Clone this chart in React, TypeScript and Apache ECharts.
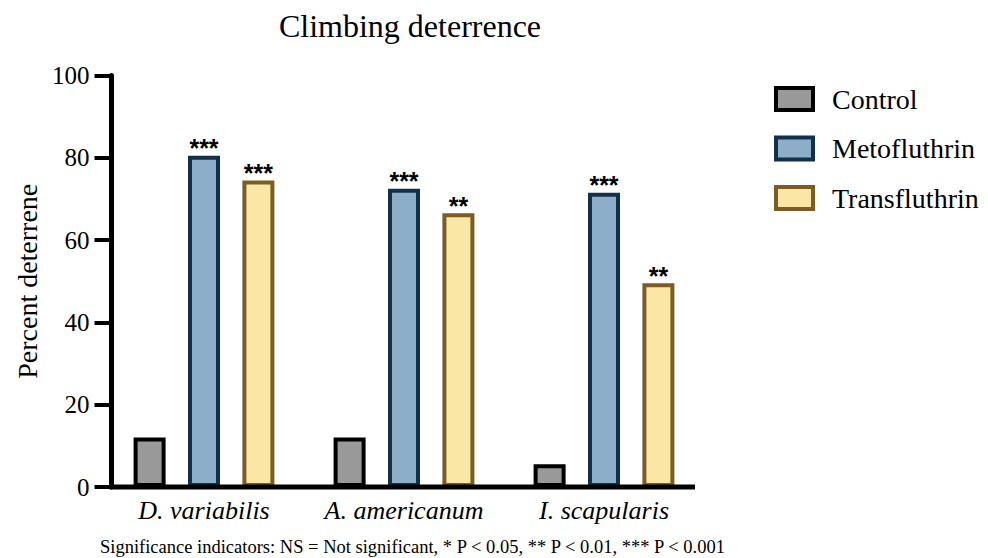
import React, { useEffect, useRef } from "react";
import * as echarts from "echarts";

const species = ["D. variabilis", "A. americanum", "I. scapularis"];
const seriesNames = ["Control", "Metofluthrin", "Transfluthrin"];
const controlValues = [12, 12, 5.5];
const metofluthrinValues = [80.5, 72.5, 71.5];
const transfluthrinValues = [74.5, 66.5, 49.5];
const controlSig = ["", "", ""];
const metofluthrinSig = ["***", "***", "***"];
const transfluthrinSig = ["***", "**", "**"];
const yTicks = [0, 20, 40, 60, 80, 100];

const SERIF = '"Liberation Serif", "Times New Roman", serif';
const SANS = '"Liberation Sans", Arial, sans-serif';

const GRID_LEFT = 104;
const GRID_WIDTH = 600;
const GRID_TOP = 75.5;
const GRID_HEIGHT = 411.5;
const Y_AXIS_SHIFT = 7.5;
const X_AXIS_END = 695;

export default function App() {
  const ref = useRef<HTMLDivElement | null>(null);

  useEffect(() => {
    if (!ref.current) return;
    const chart = echarts.init(ref.current, undefined, { renderer: "svg" });

    const makeSeries = (
      name: string,
      values: number[],
      sig: string[],
      fill: string,
      border: string
    ) => ({
      name,
      type: "bar",
      data: values,
      barWidth: 32,
      barGap: "70%",
      itemStyle: { color: fill, borderColor: border, borderWidth: 4 },
      label: {
        show: true,
        position: "top",
        distance: -5,
        formatter: (p: any) => sig[p.dataIndex],
        color: "#000",
        fontFamily: SANS,
        fontSize: 25,
        fontWeight: "bold",
      },
    });

    chart.setOption({
      animation: false,
      backgroundColor: "#ffffff",
      title: {
        text: "Climbing deterrence",
        left: 405,
        top: 5,
        textAlign: "center",
        textStyle: { fontFamily: SERIF, fontSize: 32, fontWeight: "normal", color: "#000" },
      },
      legend: {
        orient: "vertical",
        left: 774,
        top: 85,
        padding: 0,
        itemWidth: 37,
        itemHeight: 22,
        itemGap: 21.5,
        icon: "rect",
        data: seriesNames,
        itemStyle: { borderWidth: 4 },
        textStyle: { fontFamily: SERIF, fontSize: 28, color: "#000", padding: [0, 0, 0, 14] },
      },
      grid: {
        left: GRID_LEFT,
        top: GRID_TOP,
        width: GRID_WIDTH,
        height: GRID_HEIGHT,
        containLabel: false,
        outerBoundsMode: "none",
      },
      xAxis: {
        type: "category",
        data: species,
        axisLine: { show: false },
        axisTick: { show: false },
        axisLabel: {
          interval: 0,
          hideOverlap: false,
          margin: 10,
          fontFamily: SERIF,
          fontStyle: "italic",
          fontSize: 26,
          color: "#000",
        },
      },
      yAxis: {
        type: "value",
        min: yTicks[0],
        max: yTicks[yTicks.length - 1],
        interval: 20,
        offset: -Y_AXIS_SHIFT,
        name: "Percent deterrene",
        nameLocation: "middle",
        nameGap: 70,
        nameRotate: 90,
        nameTextStyle: { fontFamily: SERIF, fontSize: 28, color: "#000" },
        splitLine: { show: false },
        axisLine: { show: true, lineStyle: { color: "#000", width: 5 } },
        axisTick: { show: true, length: 17, lineStyle: { color: "#000", width: 4 } },
        axisLabel: { margin: 22, fontFamily: SERIF, fontSize: 25, color: "#000" },
      },
      series: [
        makeSeries(seriesNames[0], controlValues, controlSig, "#999999", "#000000"),
        makeSeries(seriesNames[1], metofluthrinValues, metofluthrinSig, "#8daec8", "#12304a"),
        makeSeries(seriesNames[2], transfluthrinValues, transfluthrinSig, "#fbe7a5", "#7b5c25"),
      ],
    });

    // x axis baseline: runs from the shifted y axis to the right end of the plot
    const zero = chart.convertToPixel({ yAxisIndex: 0 }, 0) as number;
    chart.setOption({
      graphic: [
        {
          type: "line",
          shape: { x1: GRID_LEFT + Y_AXIS_SHIFT - 2, y1: zero, x2: X_AXIS_END, y2: zero },
          style: { stroke: "#000", lineWidth: 5 },
          z: 10,
        },
        {
          type: "text",
          left: 100,
          top: 537,
          style: {
            text: "Significance indicators: NS = Not significant, * P < 0.05, ** P < 0.01, *** P < 0.001",
            font: `18.5px ${SERIF}`,
            fill: "#000",
          },
        },
      ],
    });

    return () => chart.dispose();
  }, []);

  return (
    <div
      ref={ref}
      style={{ position: "fixed", left: 0, top: 0, width: 988, height: 558 }}
    />
  );
}
